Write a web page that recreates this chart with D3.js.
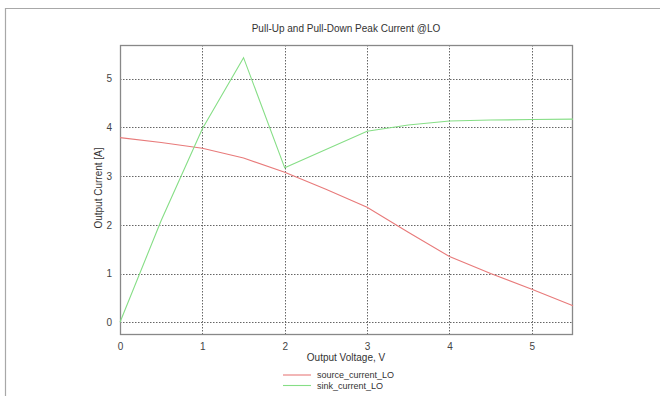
<!DOCTYPE html>
<html><head><meta charset="utf-8">
<script src="https://cdn.jsdelivr.net/npm/d3@7"></script>
<style>body{margin:0;background:#fff}svg{display:block}text{font-family:"Liberation Sans",Arial,sans-serif}</style>
</head><body>
<svg id="c" width="660" height="396"></svg>
<script>
const title = "Pull-Up and Pull-Down Peak Current @LO";
const xLabel = "Output Voltage, V";
const yLabel = "Output Current [A]";
const xTicks = [0, 1, 2, 3, 4, 5];
const yTicks = [0, 1, 2, 3, 4, 5];
const sourceX = [0, 0.5, 1, 1.5, 2, 2.5, 3, 3.5, 4, 4.5, 5, 5.5];
const sourceY = [3.79, 3.69, 3.57, 3.37, 3.08, 2.73, 2.36, 1.85, 1.35, 1.0, 0.68, 0.34];
const sinkX = [0, 0.5, 1, 1.5, 2, 3, 3.5, 4, 4.5, 5, 5.5];
const sinkY = [0, 2.09, 3.97, 5.43, 3.17, 3.92, 4.05, 4.13, 4.15, 4.16, 4.17];
const seriesNames = ["source_current_LO", "sink_current_LO"];
const colors = ["#e87a7a", "#86de86"];

const svg = d3.select("#c");
const L = 120, R = 573, T = 45, B = 335;
const x = d3.scaleLinear().domain([0, 5.5]).range([L, R]);
const y = d3.scaleLinear().domain([-0.26, 5.69]).range([B, T]);

// outer frame
svg.append("path").attr("d", "M5.5,396V8.5H660").attr("fill", "none").attr("stroke", "#a8a8a8").attr("stroke-width", 1.2);

// grid
const g = svg.append("g");
g.selectAll(".gx").data(xTicks.filter(d => d > 0)).join("line")
  .attr("x1", d => Math.round(x(d)) + 0.5).attr("x2", d => Math.round(x(d)) + 0.5)
  .attr("y1", T).attr("y2", B).attr("stroke", "#666").attr("stroke-dasharray", "1.5,1.5");
g.selectAll(".gy").data(yTicks).join("line")
  .attr("y1", d => Math.round(y(d)) + 0.5).attr("y2", d => Math.round(y(d)) + 0.5)
  .attr("x1", L).attr("x2", R).attr("stroke", "#666").attr("stroke-dasharray", "1.5,1.5");

// axes labels via d3 axes
const xa = svg.append("g").attr("transform", `translate(0,${B})`)
  .call(d3.axisBottom(x).tickValues(xTicks).tickSize(0).tickPadding(8).tickFormat(d3.format("d")));
const ya = svg.append("g").attr("transform", `translate(${L},0)`)
  .call(d3.axisLeft(y).tickValues(yTicks).tickSize(0).tickPadding(8).tickFormat(d3.format("d")));
[xa, ya].forEach(a => {
  a.select(".domain").remove();
  a.selectAll("text").attr("font-size", 10).attr("fill", "#444").attr("font-family", "Liberation Sans, Arial, sans-serif");
});

// plot frame
svg.append("rect").attr("x", L + 0.5).attr("y", T + 0.5).attr("width", R - L - 1).attr("height", B - T - 1)
  .attr("fill", "none").attr("stroke", "#888").attr("stroke-width", 1.3);

// lines
const line = d3.line().x(d => x(d[0])).y(d => y(d[1]));
const series = [d3.zip(sourceX, sourceY), d3.zip(sinkX, sinkY)];
series.forEach((s, i) => {
  svg.append("path").datum(s).attr("d", line).attr("fill", "none")
    .attr("stroke", colors[i]).attr("stroke-width", 1.1);
});

// title
svg.append("text").attr("x", 346).attr("y", 32).attr("text-anchor", "middle")
  .attr("font-size", 10).attr("fill", "#333").text(title);
svg.append("text").attr("x", 346).attr("y", 361).attr("text-anchor", "middle")
  .attr("font-size", 10).attr("fill", "#333").text(xLabel);
svg.append("text").attr("transform", "translate(102,188) rotate(-90)").attr("text-anchor", "middle")
  .attr("font-size", 10).attr("fill", "#333").text(yLabel);

// legend
const lg = svg.append("g");
seriesNames.forEach((n, i) => {
  const yy = 375 + i * 10.5;
  lg.append("line").attr("x1", 283).attr("x2", 311).attr("y1", yy).attr("y2", yy)
    .attr("stroke", colors[i]).attr("stroke-width", 1.1);
  lg.append("text").attr("x", 317).attr("y", yy + 3).attr("font-size", 9).attr("fill", "#333").text(n);
});
</script>
</body></html>
